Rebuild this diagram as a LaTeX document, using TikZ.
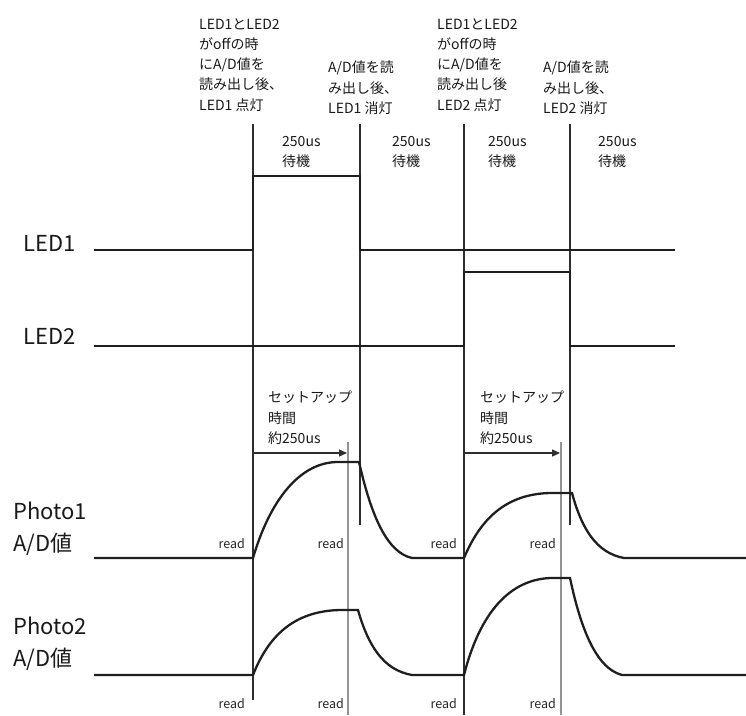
\documentclass[tikz,border=0pt]{standalone}
\usepackage{fontspec}
\setmainfont{Noto Sans CJK JP}
\usetikzlibrary{arrows.meta, positioning}
\tikzstyle{signal} = [line width=2.3pt, draw=black!88, line join=miter]
\tikzstyle{marker} = [line width=1.3pt, draw=black!82]
\tikzstyle{setupline} = [line width=2pt, draw=black!42]
\tikzstyle{arrow} = [-{Triangle[length=8pt,width=7pt]}, line width=1.3pt, draw=black!82]
\tikzstyle{siglabel} = [anchor=base west, inner sep=0pt, text=black!90,
  font=\fontsize{22}{30}\selectfont]
\tikzstyle{note} = [anchor=north west, inner sep=0pt, align=left, text=black!90,
  font=\fontsize{14}{20.3}\selectfont]
\tikzstyle{readlabel} = [anchor=base east, inner sep=0pt, text=black!85,
  font=\fontsize{12.5}{15}\selectfont]

\begin{document}
\begin{tikzpicture}[x=1pt, y=-1pt]
  \useasboundingbox (0,0) rectangle (746,715);

  % Signal names
  \node[siglabel] (led1) at (23,251) {LED1};
  \node[siglabel] (led2) at (23,344) {LED2};
  \node[siglabel] (photo1) at (13,519) {Photo1};
  \node[siglabel] (photo1ad) at (13,551) {A/D値};
  \node[siglabel] (photo2) at (13,634) {Photo2};
  \node[siglabel] (photo2ad) at (13,666) {A/D値};

  % Timing marks
  \foreach \x/\y in {253/700, 360/525, 464/715, 570/525}
    \draw[marker] (\x,124) -- (\x,\y);
  \foreach \x in {348, 561}
    \draw[setupline] (\x,442) -- (\x,715);

  % LED waveforms
  \draw[signal] (94,250) -- (253,250) -- (253,176) -- (360,176) -- (360,250) -- (675,250);
  \draw[signal] (94,346) -- (464,346) -- (464,272) -- (570,272) -- (570,346) -- (675,346);

  % Photo waveforms
  \draw[signal] (94,558) -- (253,558)
    .. controls (270,500) and (300,462) .. (338,462) -- (359,462)
    .. controls (370,510) and (385,552) .. (412,558) -- (464,558)
    .. controls (480,520) and (505,494) .. (550,493) -- (572,493)
    .. controls (582,530) and (597,553) .. (624,558) -- (746,558);
  \draw[signal] (94,675) -- (253,675)
    .. controls (268,637) and (293,611) .. (340,610) -- (358,610)
    .. controls (368,645) and (383,670) .. (412,675) -- (464,675)
    .. controls (478,620) and (505,580) .. (550,578) -- (570,578)
    .. controls (580,625) and (595,668) .. (622,675) -- (746,675);

  % Read points
  \foreach \x [count=\i] in {245,344,457,556} {
    \node[readlabel] (reada\i) at (\x,548) {read};
    \node[readlabel] (readb\i) at (\x,708) {read};
  }

  % Setup time arrows
  \coordinate (setupstart1) at (253,453);
  \coordinate (setupend1) at (347,453);
  \coordinate (setupstart2) at (464,453);
  \coordinate (setupend2) at (560,453);
  \draw[arrow] (setupstart1) -- (setupend1);
  \draw[arrow] (setupstart2) -- (setupend2);

  % Notes
  \node[note] (on1) at (199,18) {LED1とLED2\\がoffの時\\にA/D値を\\読み出し後、\\LED1 点灯};
  \node[note] (off1) at (328,61) {A/D値を読\\み出し後、\\LED1 消灯};
  \node[note] (on2) at (437,18) {LED1とLED2\\がoffの時\\にA/D値を\\読み出し後\\LED2 点灯};
  \node[note] (off2) at (543,61) {A/D値を読\\み出し後、\\LED2 消灯};
  \foreach \x [count=\i] in {282,392,488,598}
    \node[note] (wait\i) at (\x,136) {250us\\待機};
  \node[note] (setup1) at (268,391) {セットアップ\\時間\\約250us};
  \node[note] (setup2) at (480,391) {セットアップ\\時間\\約250us};

\end{tikzpicture}
\end{document}
